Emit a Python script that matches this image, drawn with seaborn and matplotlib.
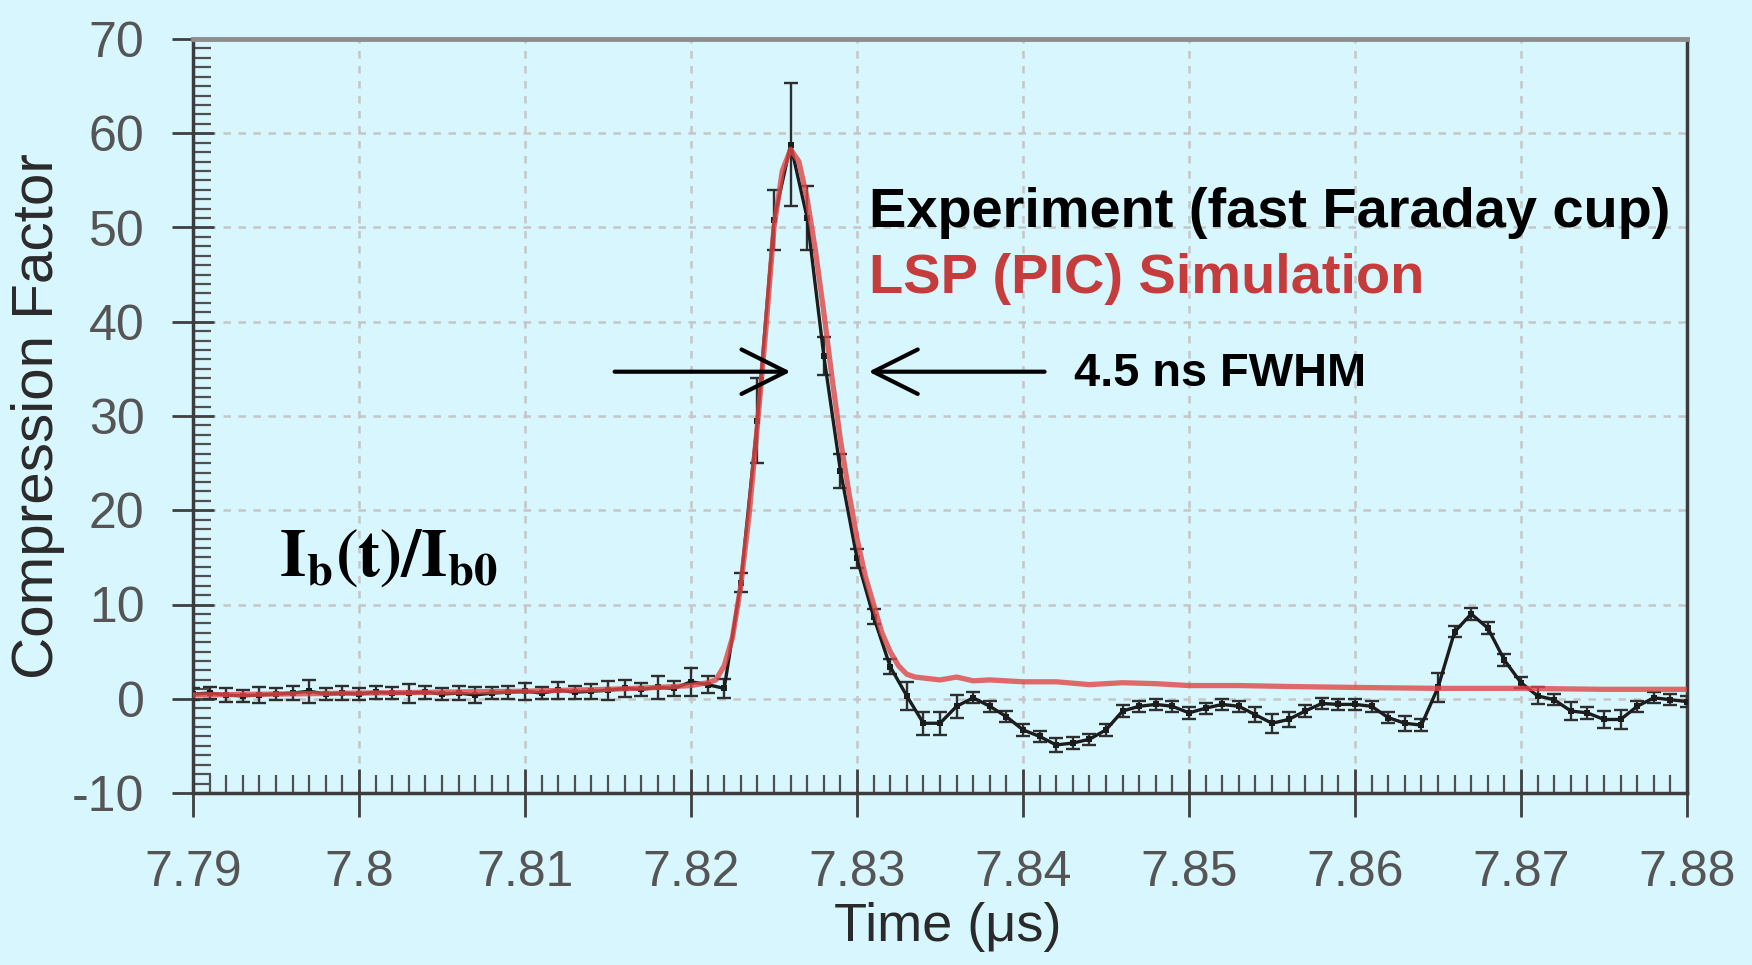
import matplotlib
matplotlib.use("Agg")
import matplotlib.pyplot as plt
import seaborn as sns
from matplotlib import font_manager as fm
from matplotlib.ticker import FixedLocator, MultipleLocator

# ---------------- data ----------------
exp_t = [7.790, 7.791, 7.792, 7.793, 7.794, 7.795, 7.796, 7.797, 7.798, 7.799,
         7.800, 7.801, 7.802, 7.803, 7.804, 7.805, 7.806, 7.807, 7.808, 7.809,
         7.810, 7.811, 7.812, 7.813, 7.814, 7.815, 7.816, 7.817, 7.818, 7.819,
         7.820, 7.821, 7.822, 7.823, 7.824, 7.825, 7.826, 7.827, 7.828, 7.829,
         7.830, 7.831, 7.832, 7.833, 7.834, 7.835, 7.836, 7.837, 7.838, 7.839,
         7.840, 7.841, 7.842, 7.843, 7.844, 7.845, 7.846, 7.847, 7.848, 7.849,
         7.850, 7.851, 7.852, 7.853, 7.854, 7.855, 7.856, 7.857, 7.858, 7.859,
         7.860, 7.861, 7.862, 7.863, 7.864, 7.865, 7.866, 7.867, 7.868, 7.869,
         7.870, 7.871, 7.872, 7.873, 7.874, 7.875, 7.876, 7.877, 7.878, 7.879,
         7.880]
exp_y = [0.5, 0.6, 0.4, 0.3, 0.4, 0.5, 0.6, 0.8, 0.5, 0.6,
         0.5, 0.7, 0.6, 0.6, 0.7, 0.5, 0.6, 0.4, 0.6, 0.7,
         0.8, 0.6, 0.9, 0.7, 0.8, 0.9, 1.1, 1.0, 1.2, 1.1,
         1.8, 1.5, 1.1, 12.3, 29.5, 50.8, 58.8, 51.0, 36.4, 24.2,
         14.9, 8.7, 3.4, 0.3, -2.6, -2.6, -0.8, 0.1, -0.8, -1.9,
         -3.3, -4.0, -4.9, -4.7, -4.3, -3.3, -1.3, -0.8, -0.6, -0.8,
         -1.5, -1.0, -0.6, -0.8, -1.7, -2.6, -2.2, -1.3, -0.5, -0.6,
         -0.6, -0.8, -2.0, -2.6, -2.8, 1.2, 7.1, 9.0, 7.5, 4.1,
         1.7, 0.3, -0.1, -1.3, -1.5, -2.2, -2.2, -0.8, 0.1, -0.1,
         -0.3]
exp_err = [0.6, 0.6, 0.7, 0.6, 0.8, 0.6, 0.7, 1.2, 0.6, 0.7,
           0.6, 0.7, 0.6, 1.0, 0.7, 0.6, 0.7, 0.8, 0.6, 0.7,
           0.9, 0.6, 0.9, 0.7, 0.8, 1.0, 0.9, 0.7, 1.2, 0.8,
           1.5, 0.9, 1.0, 1.0, 4.5, 3.2, 6.5, 3.4, 2.0, 1.8,
           1.0, 0.8, 0.8, 1.5, 1.2, 1.2, 1.2, 0.6, 0.6, 0.6,
           0.6, 0.6, 0.7, 0.6, 0.6, 0.6, 0.6, 0.6, 0.6, 0.6,
           0.6, 0.6, 0.6, 0.6, 0.8, 1.0, 0.8, 0.6, 0.6, 0.6,
           0.6, 0.6, 0.6, 0.8, 0.6, 1.5, 0.6, 0.6, 0.6, 0.6,
           0.6, 0.9, 0.6, 1.0, 0.6, 0.9, 1.0, 0.6, 0.6, 0.6,
           0.6]

sim_t = [7.790, 7.795, 7.800, 7.805, 7.810, 7.815, 7.818, 7.820, 7.8210, 7.8215,
         7.8220, 7.8225, 7.8230, 7.8235, 7.8240, 7.8245, 7.8250, 7.8255, 7.8260, 7.8265,
         7.8270, 7.8275, 7.8280, 7.8285, 7.8290, 7.8295, 7.8300, 7.8305, 7.8310, 7.8315,
         7.8320, 7.8325, 7.8330, 7.8335, 7.834, 7.835, 7.836, 7.837, 7.838, 7.840,
         7.842, 7.844, 7.846, 7.848, 7.850, 7.853, 7.856, 7.860, 7.865, 7.870,
         7.875, 7.880]
sim_y = [0.4, 0.5, 0.6, 0.7, 0.8, 1.0, 1.2, 1.4, 1.7, 2.0,
         3.5, 6.5, 12.0, 19.5, 29.0, 39.0, 50.0, 56.0, 58.3, 57.0,
         53.0, 47.5, 41.0, 34.0, 27.5, 22.0, 17.0, 13.0, 10.0, 7.0,
         5.0, 3.5, 2.6, 2.3, 2.2, 2.0, 2.3, 1.9, 2.0, 1.8,
         1.8, 1.5, 1.7, 1.6, 1.4, 1.4, 1.3, 1.2, 1.1, 1.1,
         1.0, 1.0]

x_ticks = [7.79, 7.80, 7.81, 7.82, 7.83, 7.84, 7.85, 7.86, 7.87, 7.88]
x_tick_labels = ["7.79", "7.8", "7.81", "7.82", "7.83", "7.84", "7.85", "7.86", "7.87", "7.88"]
y_ticks = [-10, 0, 10, 20, 30, 40, 50, 60, 70]
y_tick_labels = ["-10", "0", "10", "20", "30", "40", "50", "60", "70"]

# ---------------- style ----------------
BG = "#d7f6fd"
sns.set_style("ticks")
plt.rcParams['font.family'] = ['Liberation Sans', 'DejaVu Sans']
plt.rcParams['axes.unicode_minus'] = False
plt.rcParams['mathtext.fontset'] = 'stix'

names = {f.name for f in fm.fontManager.ttflist}
if 'Liberation Sans Narrow' in names:
    tick_family, tick_size = 'Liberation Sans Narrow', 42
else:
    tick_family, tick_size = 'Liberation Sans', 36

fig = plt.figure(figsize=(17.52, 9.65), dpi=100, facecolor=BG)
ax = fig.add_axes([193 / 1752, 1 - 793 / 965, (1687 - 193) / 1752, (793 - 39) / 965], facecolor=BG)

ax.errorbar(exp_t, exp_y, yerr=exp_err, fmt='none', ecolor='#2e2e2e',
            elinewidth=1.7, capsize=5, capthick=1.7, zorder=3)
sns.lineplot(x=exp_t, y=exp_y, ax=ax, color='#1c1c1c', linewidth=2.4,
             marker='s', markersize=5, markeredgewidth=0, sort=False,
             estimator=None, zorder=4)
sns.lineplot(x=sim_t, y=sim_y, ax=ax, color='#e04646', linewidth=3.8,
             alpha=0.8, sort=False, estimator=None, zorder=5)

ax.set_xlim(7.79, 7.88)
ax.set_ylim(-10, 70)
ax.xaxis.set_major_locator(FixedLocator(x_ticks))
ax.set_xticklabels(x_tick_labels)
ax.yaxis.set_major_locator(FixedLocator(y_ticks))
ax.set_yticklabels(y_tick_labels)
ax.xaxis.set_minor_locator(MultipleLocator(0.001))
ax.yaxis.set_minor_locator(MultipleLocator(1))

ax.tick_params(axis='x', which='major', direction='inout', length=34, width=2,
               color='#404040', pad=24, labelsize=tick_size, labelcolor='#555555')
ax.tick_params(axis='y', which='major', direction='inout', length=30, width=2,
               color='#404040', pad=20, labelsize=tick_size, labelcolor='#555555')
ax.tick_params(which='minor', direction='in', length=13, width=1.6, color='#505050')
for lab in ax.get_xticklabels() + ax.get_yticklabels():
    lab.set_family(tick_family)

ax.grid(True, which='major', color='#c6c6c6', linestyle=(0, (3, 3)), linewidth=1.8)
ax.set_axisbelow(True)

for s in ['left', 'bottom', 'right']:
    ax.spines[s].set_color('#3c3c3c')
    ax.spines[s].set_linewidth(2.5)
ax.spines['top'].set_color('#8e8e8e')
ax.spines['top'].set_linewidth(3.5)

ax.set_xlabel("Time (μs)", fontsize=39, color='#2a2a2a')
ax.xaxis.set_label_coords(0.505, -0.145)
ax.set_ylabel("Compression Factor", fontsize=42, color='#2a2a2a')
ax.yaxis.set_label_coords(-0.086, 0.5)

ax.text(7.8307, 50.1, "Experiment (fast Faraday cup)", fontsize=40.3, fontweight='bold',
        color='black', ha='left', va='baseline', zorder=6)
ax.text(7.8307, 43.1, "LSP (PIC) Simulation", fontsize=40.3, fontweight='bold',
        color='#c43c3c', ha='left', va='baseline', zorder=6)
ax.text(7.8431, 33.2, "4.5 ns FWHM", fontsize=33.8, fontweight='bold',
        color='black', ha='left', va='baseline', zorder=6)
ax.text(7.7952, 13.1, r"$\mathbf{I_{b}(t)/I_{b0}}$", fontsize=48,
        color='black', ha='left', va='baseline', zorder=6)

arrow = dict(arrowstyle='->,head_length=0.8,head_width=0.4', lw=3, color='black',
             mutation_scale=40, shrinkA=0, shrinkB=0)
ax.annotate('', xy=(7.8260, 34.7), xytext=(7.8154, 34.7), arrowprops=arrow, zorder=6)
ax.annotate('', xy=(7.8307, 34.7), xytext=(7.8413, 34.7), arrowprops=arrow, zorder=6)

fig.savefig("out.png", dpi=100, facecolor=BG)
